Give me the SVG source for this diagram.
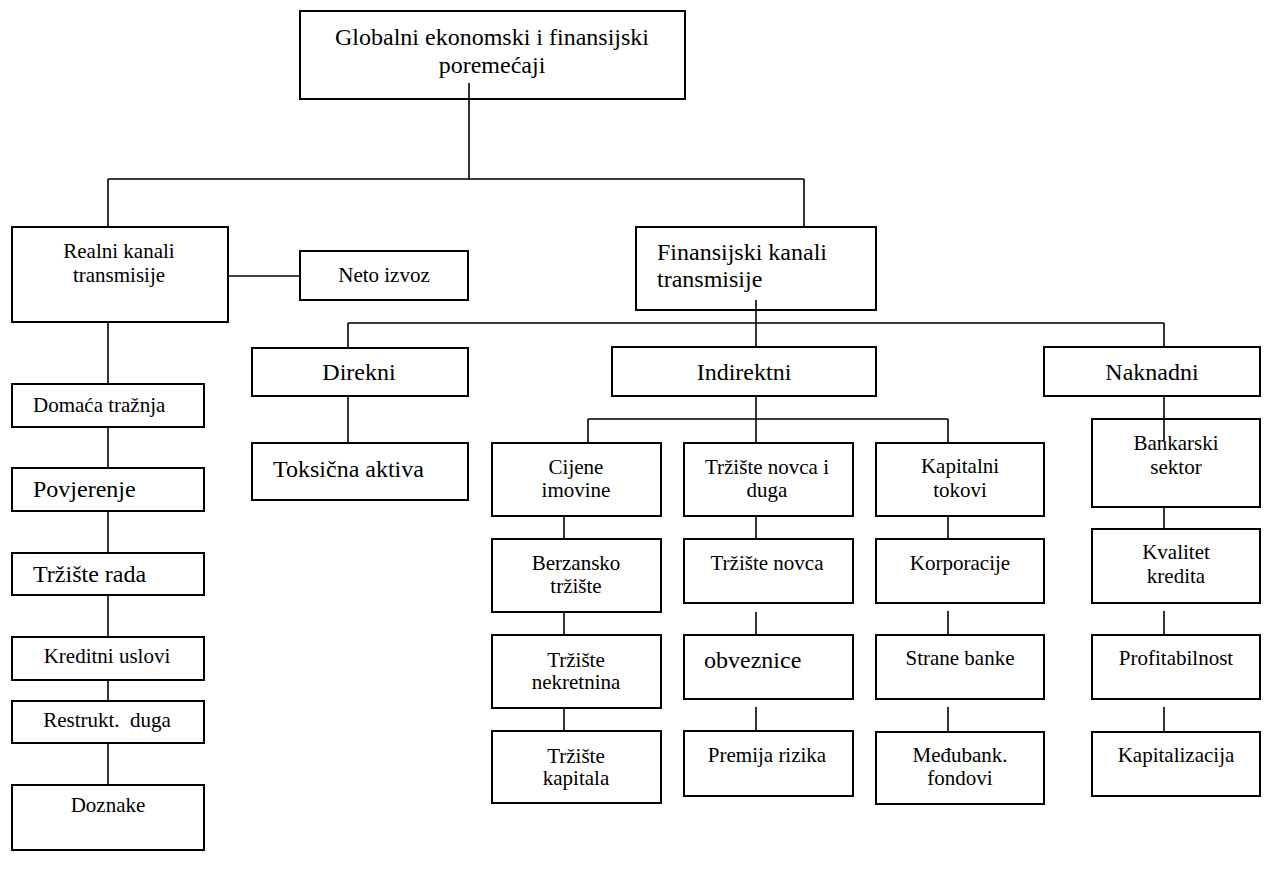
<svg xmlns="http://www.w3.org/2000/svg" width="1269" height="894" viewBox="0 0 1269 894">
  <style>
    .box { fill: #ffffff; stroke: #000000; stroke-width: 2; }
    .link { fill: none; stroke: #000000; stroke-width: 1.6; }
  </style>
  <rect x="0" y="0" width="1269" height="894" fill="#ffffff"/>

  <!-- top level -->
  <g id="node-global">
    <rect class="box" x="300" y="11" width="385" height="88"/>
    <text x="492" y="45" font-family="Liberation Serif" font-size="24" text-anchor="middle">Globalni ekonomski i finansijski</text>
    <text x="492" y="73" font-family="Liberation Serif" font-size="24" text-anchor="middle">poremećaji</text>
  </g>
  <g id="node-realni">
    <rect class="box" x="12" y="227" width="216" height="95"/>
    <text x="119" y="258" font-family="Liberation Serif" font-size="21" text-anchor="middle">Realni kanali</text>
    <text x="119" y="282" font-family="Liberation Serif" font-size="21" text-anchor="middle">transmisije</text>
  </g>
  <g id="node-neto">
    <rect class="box" x="300" y="251" width="168" height="49"/>
    <text x="384" y="282" font-family="Liberation Serif" font-size="21" text-anchor="middle">Neto izvoz</text>
  </g>
  <g id="node-finansijski">
    <rect class="box" x="636" y="227" width="240" height="83"/>
    <text x="657" y="260" font-family="Liberation Serif" font-size="24">Finansijski kanali</text>
    <text x="657" y="287" font-family="Liberation Serif" font-size="24">transmisije</text>
  </g>

  <!-- real channel chain -->
  <g id="node-domaca">
    <rect class="box" x="12" y="384" width="192" height="43"/>
    <text x="33" y="412" font-family="Liberation Serif" font-size="21">Domaća tražnja</text>
  </g>
  <g id="node-povjerenje">
    <rect class="box" x="12" y="468" width="192" height="43"/>
    <text x="33" y="497" font-family="Liberation Serif" font-size="24">Povjerenje</text>
  </g>
  <g id="node-trziste-rada">
    <rect class="box" x="12" y="553" width="192" height="42"/>
    <text x="33" y="582" font-family="Liberation Serif" font-size="24">Tržište rada</text>
  </g>
  <g id="node-kreditni">
    <rect class="box" x="12" y="637" width="192" height="43"/>
    <text x="107" y="663" font-family="Liberation Serif" font-size="21" text-anchor="middle">Kreditni uslovi</text>
  </g>
  <g id="node-restrukt">
    <rect class="box" x="12" y="701" width="192" height="42"/>
    <text x="107" y="727" font-family="Liberation Serif" font-size="21" text-anchor="middle">Restrukt.&#160; duga</text>
  </g>
  <g id="node-doznake">
    <rect class="box" x="12" y="785" width="192" height="65"/>
    <text x="108" y="812" font-family="Liberation Serif" font-size="21" text-anchor="middle">Doznake</text>
  </g>

  <!-- financial channel branches -->
  <g id="node-direkni">
    <rect class="box" x="252" y="348" width="216" height="48"/>
    <text x="359" y="380" font-family="Liberation Serif" font-size="24" text-anchor="middle">Direkni</text>
  </g>
  <g id="node-toksicna">
    <rect class="box" x="252" y="443" width="216" height="57"/>
    <text x="273" y="477" font-family="Liberation Serif" font-size="24">Toksična aktiva</text>
  </g>
  <g id="node-indirektni">
    <rect class="box" x="612" y="347" width="264" height="49"/>
    <text x="744" y="380" font-family="Liberation Serif" font-size="24" text-anchor="middle">Indirektni</text>
  </g>
  <g id="node-naknadni">
    <rect class="box" x="1044" y="347" width="216" height="49"/>
    <text x="1152" y="380" font-family="Liberation Serif" font-size="24" text-anchor="middle">Naknadni</text>
  </g>

  <!-- asset prices column -->
  <g id="node-cijene">
    <rect class="box" x="492" y="443" width="169" height="73"/>
    <text x="576" y="474" font-family="Liberation Serif" font-size="21" text-anchor="middle">Cijene</text>
    <text x="576" y="497" font-family="Liberation Serif" font-size="21" text-anchor="middle">imovine</text>
  </g>
  <g id="node-berzansko">
    <rect class="box" x="492" y="539" width="169" height="73"/>
    <text x="576" y="570" font-family="Liberation Serif" font-size="21" text-anchor="middle">Berzansko</text>
    <text x="576" y="593" font-family="Liberation Serif" font-size="21" text-anchor="middle">tržište</text>
  </g>
  <g id="node-nekretnine">
    <rect class="box" x="492" y="635" width="169" height="73"/>
    <text x="576" y="667" font-family="Liberation Serif" font-size="21" text-anchor="middle">Tržište</text>
    <text x="576" y="689" font-family="Liberation Serif" font-size="21" text-anchor="middle">nekretnina</text>
  </g>
  <g id="node-kapital">
    <rect class="box" x="492" y="731" width="169" height="72"/>
    <text x="576" y="763" font-family="Liberation Serif" font-size="21" text-anchor="middle">Tržište</text>
    <text x="576" y="785" font-family="Liberation Serif" font-size="21" text-anchor="middle">kapitala</text>
  </g>

  <!-- money and debt market column -->
  <g id="node-novac-dug">
    <rect class="box" x="684" y="443" width="169" height="73"/>
    <text x="767" y="474" font-family="Liberation Serif" font-size="21" text-anchor="middle">Tržište novca i</text>
    <text x="767" y="497" font-family="Liberation Serif" font-size="21" text-anchor="middle">duga</text>
  </g>
  <g id="node-novac">
    <rect class="box" x="684" y="539" width="169" height="64"/>
    <text x="767" y="570" font-family="Liberation Serif" font-size="21" text-anchor="middle">Tržište novca</text>
  </g>
  <g id="node-obveznice">
    <rect class="box" x="684" y="635" width="169" height="64"/>
    <text x="704" y="668" font-family="Liberation Serif" font-size="24">obveznice</text>
  </g>
  <g id="node-premija">
    <rect class="box" x="684" y="731" width="169" height="65"/>
    <text x="767" y="762" font-family="Liberation Serif" font-size="21" text-anchor="middle">Premija rizika</text>
  </g>

  <!-- capital flows column -->
  <g id="node-kapitalni">
    <rect class="box" x="876" y="443" width="168" height="73"/>
    <text x="960" y="473" font-family="Liberation Serif" font-size="21" text-anchor="middle">Kapitalni</text>
    <text x="960" y="497" font-family="Liberation Serif" font-size="21" text-anchor="middle">tokovi</text>
  </g>
  <g id="node-korporacije">
    <rect class="box" x="876" y="539" width="168" height="64"/>
    <text x="960" y="570" font-family="Liberation Serif" font-size="21" text-anchor="middle">Korporacije</text>
  </g>
  <g id="node-strane">
    <rect class="box" x="876" y="635" width="168" height="64"/>
    <text x="960" y="665" font-family="Liberation Serif" font-size="21" text-anchor="middle">Strane banke</text>
  </g>
  <g id="node-medjubank">
    <rect class="box" x="876" y="732" width="168" height="72"/>
    <text x="960" y="762" font-family="Liberation Serif" font-size="21" text-anchor="middle">Međubank.</text>
    <text x="960" y="785" font-family="Liberation Serif" font-size="21" text-anchor="middle">fondovi</text>
  </g>

  <!-- banking sector column -->
  <g id="node-bankarski">
    <rect class="box" x="1092" y="419" width="168" height="88"/>
    <text x="1176" y="450" font-family="Liberation Serif" font-size="21" text-anchor="middle">Bankarski</text>
    <text x="1176" y="474" font-family="Liberation Serif" font-size="21" text-anchor="middle">sektor</text>
  </g>
  <g id="node-kvalitet">
    <rect class="box" x="1092" y="529" width="168" height="74"/>
    <text x="1176" y="559" font-family="Liberation Serif" font-size="21" text-anchor="middle">Kvalitet</text>
    <text x="1176" y="583" font-family="Liberation Serif" font-size="21" text-anchor="middle">kredita</text>
  </g>
  <g id="node-profitabilnost">
    <rect class="box" x="1092" y="635" width="168" height="64"/>
    <text x="1176" y="665" font-family="Liberation Serif" font-size="21" text-anchor="middle">Profitabilnost</text>
  </g>
  <g id="node-kapitalizacija">
    <rect class="box" x="1092" y="732" width="168" height="64"/>
    <text x="1176" y="762" font-family="Liberation Serif" font-size="21" text-anchor="middle">Kapitalizacija</text>
  </g>

  <!-- connectors -->
  <g id="connectors">
    <path class="link" d="M469 83 V179 M108 179 H804 M108 179 V227 M804 179 V227"/>
    <path class="link" d="M228 276 H300"/>
    <path class="link" d="M108 322 V384 M108 427 V468 M108 511 V553 M108 595 V637 M108 680 V701 M108 743 V785"/>
    <path class="link" d="M756 300 V347 M348 323 H1164 M348 323 V348 M1164 323 V347"/>
    <path class="link" d="M348 396 V443"/>
    <path class="link" d="M756 396 V443 M588 419 H948 M588 419 V443 M948 419 V443"/>
    <path class="link" d="M1164 396 V440"/>
    <path class="link" d="M564 516 V539 M564 612 V635 M564 708 V731"/>
    <path class="link" d="M756 516 V539 M756 612 V635 M756 707 V731"/>
    <path class="link" d="M948 516 V539 M948 611 V635 M948 707 V732"/>
    <path class="link" d="M1164 507 V529 M1164 611 V635 M1164 707 V732"/>
  </g>
</svg>
